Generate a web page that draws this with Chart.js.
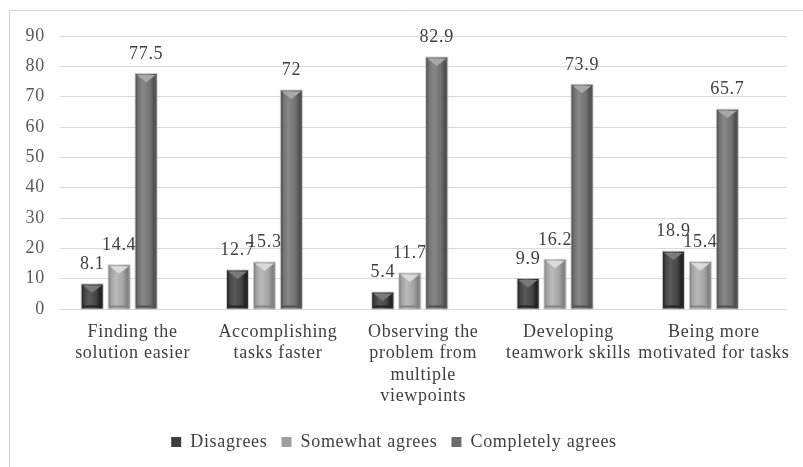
<!DOCTYPE html>
<html>
<head>
<meta charset="utf-8">
<script src="https://cdn.jsdelivr.net/npm/chart.js@4.4.1/dist/chart.umd.min.js"></script>
<style>
  html, body { margin: 0; padding: 0; background: #ffffff; }
  #wrap { width: 803px; height: 467px; position: relative; }
</style>
</head>
<body>
<div id="wrap"><canvas id="chart" width="803" height="467"></canvas></div>
<script>
// Survey categories (multi-line axis labels)
const categories = [
  ['Finding the', 'solution easier'],
  ['Accomplishing', 'tasks faster'],
  ['Observing the', 'problem from', 'multiple', 'viewpoints'],
  ['Developing', 'teamwork skills'],
  ['Being more', 'motivated for tasks']
];

// Percentages per answer
const disagrees = [8.1, 12.7, 5.4, 9.9, 18.9];
const somewhatAgrees = [14.4, 15.3, 11.7, 16.2, 15.4];
const completelyAgrees = [77.5, 72, 82.9, 73.9, 65.7];

// Value axis ticks
const yTicks = [0, 10, 20, 30, 40, 50, 60, 70, 80, 90];

const seriesNames = ['Disagrees', 'Somewhat agrees', 'Completely agrees'];
const seriesColors = [[62, 62, 62], [158, 158, 158], [108, 108, 108]];

const FONT = '"Liberation Serif", "Times New Roman", serif';
const SPACING = '0.7px';

function rgb(c, d) {
  const f = v => Math.max(0, Math.min(255, Math.round(v + d)));
  return `rgb(${f(c[0])},${f(c[1])},${f(c[2])})`;
}

// Slightly widened lettering for every text on the canvas
const spacingPlugin = {
  id: 'spacing',
  beforeInit(chart) { chart.ctx.letterSpacing = SPACING; },
  beforeUpdate(chart) { chart.ctx.letterSpacing = SPACING; },
  beforeDraw(chart) { chart.ctx.letterSpacing = SPACING; }
};

// Outer frame of the figure
const framePlugin = {
  id: 'frame',
  beforeDraw(chart) {
    const ctx = chart.ctx;
    ctx.save();
    ctx.strokeStyle = '#d4d4d4';
    ctx.lineWidth = 1;
    ctx.beginPath();
    ctx.moveTo(9.5, chart.height);
    ctx.lineTo(9.5, 10.5);
    ctx.lineTo(chart.width, 10.5);
    ctx.stroke();
    ctx.restore();
  }
};

// Bevelled shading on each bar plus value labels above them
const bevelPlugin = {
  id: 'bevel',
  afterDatasetsDraw(chart) {
    const ctx = chart.ctx;
    chart.data.datasets.forEach((ds, di) => {
      if (di > 2) return;
      const base = seriesColors[di];
      const meta = chart.getDatasetMeta(di);
      meta.data.forEach((bar, i) => {
        const p = bar.getProps(['x', 'y', 'base', 'width'], true);
        const left = p.x - p.width / 2, right = p.x + p.width / 2;
        const top = p.y, bottom = p.base, w = p.width;
        ctx.save();
        const g = ctx.createLinearGradient(left, 0, right, 0);
        g.addColorStop(0, rgb(base, -30));
        g.addColorStop(0.12, rgb(base, 5));
        g.addColorStop(0.35, rgb(base, 28));
        g.addColorStop(0.7, rgb(base, 5));
        g.addColorStop(0.88, rgb(base, -30));
        g.addColorStop(1, rgb(base, -12));
        ctx.fillStyle = g;
        ctx.fillRect(left, top, w, bottom - top);
        // top bevel: light wedge pointing down
        const bh = Math.min(w * 0.4, (bottom - top) * 0.6);
        ctx.beginPath();
        ctx.moveTo(left + 1, top + 1);
        ctx.lineTo(right - 1, top + 1);
        ctx.lineTo(p.x, top + bh);
        ctx.closePath();
        ctx.fillStyle = rgb(base, 60);
        ctx.fill();
        // bottom bevel strip
        ctx.fillStyle = rgb(base, -25);
        ctx.fillRect(left + 1, bottom - 3, w - 2, 2);
        // soft outline
        ctx.strokeStyle = 'rgba(160,160,160,0.5)';
        ctx.lineWidth = 1;
        ctx.strokeRect(left - 0.5, top - 0.5, w + 1, bottom - top + 1);
        ctx.restore();

        // value label
        ctx.save();
        ctx.font = `18px ${FONT}`;
        ctx.fillStyle = '#404040';
        ctx.textAlign = 'center';
        ctx.textBaseline = 'middle';
        ctx.fillText(String(ds.data[i]), p.x, top - 20);
        ctx.restore();
      });
    });
  }
};

const ctx = document.getElementById('chart').getContext('2d');
ctx.letterSpacing = SPACING;
new Chart(ctx, {
  type: 'bar',
  data: {
    labels: categories,
    datasets: [
      { label: seriesNames[0], data: disagrees, backgroundColor: rgb(seriesColors[0], 0) },
      { label: seriesNames[1], data: somewhatAgrees, backgroundColor: rgb(seriesColors[1], 0) },
      { label: seriesNames[2], data: completelyAgrees, backgroundColor: rgb(seriesColors[2], 0) },
      // empty fourth slot in each group
      { label: '', data: [null, null, null, null, null], backgroundColor: 'rgba(0,0,0,0)' }
    ]
  },
  options: {
    responsive: false,
    animation: false,
    events: [],
    layout: { padding: { left: 0, right: 15, top: 36, bottom: 6 } },
    datasets: {
      bar: { categoryPercentage: 0.742, barPercentage: 0.78 }
    },
    scales: {
      x: {
        grid: { display: false, drawTicks: false },
        border: { display: true, color: '#d9d9d9' },
        ticks: {
          color: '#404040',
          font: { family: FONT, size: 18, lineHeight: 1.2 },
          padding: 12,
          maxRotation: 0,
          autoSkip: false
        },
        afterFit(scale) { scale.height = 110; }
      },
      y: {
        min: 0,
        max: 90,
        afterBuildTicks(scale) { scale.ticks = yTicks.map(v => ({ value: v })); },
        grid: { color: '#d9d9d9', drawTicks: false },
        border: { display: false },
        ticks: {
          color: '#595959',
          font: { family: FONT, size: 18 },
          padding: 15
        },
        afterFit(scale) { scale.width = 60; }
      }
    },
    plugins: {
      legend: {
        position: 'bottom',
        labels: {
          color: '#404040',
          font: { family: FONT, size: 18 },
          boxWidth: 10,
          boxHeight: 10,
          padding: 14,
          filter: item => item.text !== ''
        }
      },
      tooltip: { enabled: false }
    }
  },
  plugins: [spacingPlugin, framePlugin, bevelPlugin]
});
</script>
</body>
</html>
